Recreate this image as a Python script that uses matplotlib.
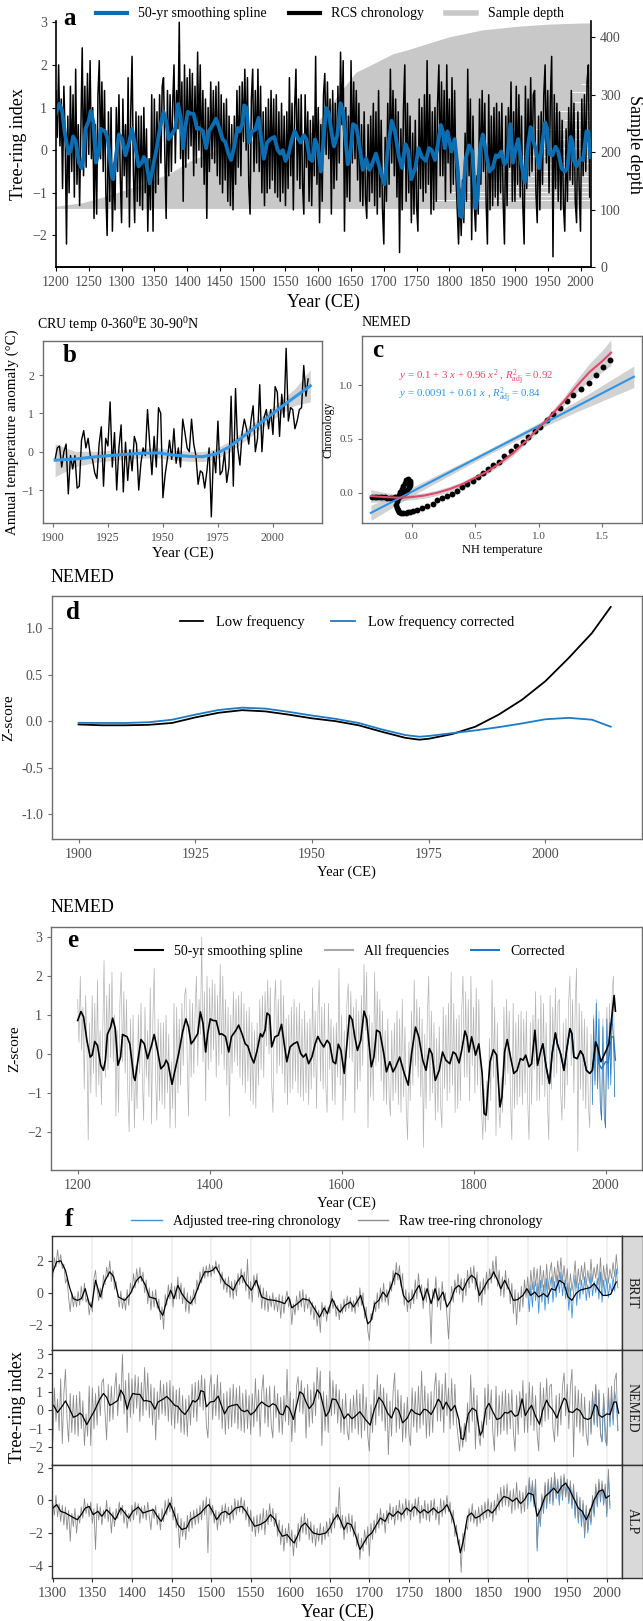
import numpy as np
import matplotlib
matplotlib.use("Agg")
import matplotlib.pyplot as plt
from matplotlib.lines import Line2D

plt.rcParams["font.family"] = "Liberation Serif"
plt.rcParams["mathtext.fontset"] = "custom"
plt.rcParams["mathtext.rm"] = "Liberation Serif"
plt.rcParams["mathtext.it"] = "Liberation Serif:italic"
plt.rcParams["mathtext.bf"] = "Liberation Serif:bold"

W, H = 643, 1621
TXT = "#4D4D4D"

# ---------------- data ----------------
# NEMED RCS chronology, every second year from 1200 (tenths of index units)
nemed_raw10 = [
    14, 3, 20, 1, 12, -9, 15, 3, -22, 8, -10, 15, -5, 13, -11, 19, -8, 6, -13, 5,
    24, -6, 15, -4, 18, -1, 21, -2, 10, -16, 6, -15, 13, 21, -2, 16, -5, 14, -10, -20,
    9, -12, 10, -19, -3, -14, 10, -5, 13, -6, -17, 12, -6, 6, -11, 17, -18, 9, 22, -5,
    -17, 9, -12, 8, -13, 8, -14, 10, -10, 5, -19, -2, -14, 13, -19, 12, -10, 9, -8, 13,
    -3, 15, 17, -1, -16, 14, -6, 13, -5, 11, 20, -3, 14, 5, 30, -2, 16, -12, 20, -4,
    17, -2, 19, 1, 18, -6, 15, -3, 23, 0, 20, -4, 14, -8, 12, -16, 10, -5, 16, -2,
    14, -3, 15, -6, 16, -8, 13, -10, 11, -7, 12, -12, 8, -13, 6, -14, 8, -8, 14, -4,
    15, -6, 16, 2, 19, 0, 17, -8, -15, 12, 19, -5, 14, -3, 19, -5, 15, -10, 9, -13,
    10, -10, 12, -9, 14, -7, 12, -10, 13, -11, 9, -12, 11, -10, 8, -13, 9, -9, 17, -6,
    11, -14, 10, 19, -7, 12, -9, 13, -8, -15, 13, -4, 9, -12, 7, -13, 8, -6, 22, -8,
    10, -17, 6, -12, 13, 18, -1, 16, -2, 12, -15, 14, -9, 11, -7, 15, -3, 23, 6, 21,
    -19, 10, -11, 8, -12, 21, -3, 16, -2, 14, -7, 11, -12, 6, -13, 9, -11, -16, 6, -12,
    8, -10, 11, -13, 9, -15, 14, -11, 7, -14, -22, 3, -12, 11, -8, 19, -3, 14, -6, 12,
    -11, 9, -24, 5, -14, 10, 20, -12, 11, -10, 8, -17, 4, -15, 7, -13, -19, 12, -9, 10,
    -12, 13, -10, 21, -8, 13, -15, 9, -14, 10, -12, 11, 20, -6, 16, -6, 14, -12, 20, -3,
    12, -10, 17, -8, 14, -6, -14, -22, -9, -20, -7, -17, 4, -12, 19, -6, 12, -21, 8, -13,
    -19, -6, -15, 12, -8, 14, -5, 11, -12, -22, 13, -14, 8, -13, 10, -11, 11, -13, 9, -10,
    11, -12, -22, 8, -13, 10, -4, 16, -12, 9, -12, 15, -8, 13, -11, 8, -13, -22, 15, -9,
    12, -6, 17, -5, 13, 14, -10, -17, 8, -14, 9, -8, 13, 20, -3, 14, -10, 12, 22, -25,
    13, -9, 11, -12, 9, -14, 7, -13, -19, 5, -12, 10, -7, 14, -8, 11, -12, -17, 9, -9,
    -19, 12, -6, 13, -5, 16, 20, -11,
]
# corrected NEMED chronology, every second year from 1980
nemed_corr10 = [
    -13, 9, -8, 13, -9, 9, -13, -17, 7, -16, -19, 9, -9, 8, -8, 10, 4, -11,
]
# 50-yr smoothing spline of the NEMED chronology (year, index)
nemed_spline = [
    (1200, 0.86), (1205, 1.09), (1209, 0.95), (1214, 0.35), (1219, -0.08), (1222, -0.03),
    (1226, 0.32), (1230, 0.22), (1235, -0.29), (1239, -0.42), (1242, -0.16), (1245, 0.5),
    (1250, 0.69), (1253, 0.92), (1257, 0.65), (1261, -0.29), (1265, -0.08), (1268, 0.5),
    (1275, 0.44), (1279, 0.26), (1285, -0.59), (1287, -0.68), (1291, -0.2), (1296, 0.37),
    (1301, 0.26), (1306, -0.12), (1312, 0.22), (1316, 0.5), (1321, 0.09), (1326, -0.38),
    (1331, -0.29), (1334, -0.16), (1337, -0.25), (1343, -0.78), (1347, -0.46), (1353, 0.0),
    (1359, 0.56), (1364, 0.9), (1368, 0.69), (1372, 0.26), (1376, 0.35), (1382, 0.52),
    (1386, 1.08), (1390, 0.78), (1394, 0.05), (1397, 0.52), (1401, 0.9), (1405, 0.86),
    (1410, 0.85), (1415, 0.5), (1418, 0.52), (1424, 0.45), (1429, 0.05), (1433, 0.44),
    (1440, 0.61), (1444, 0.74), (1449, 0.52), (1454, 0.26), (1458, 0.2), (1463, -0.08),
    (1467, -0.23), (1472, 0.09), (1477, 0.52), (1480, 0.44), (1484, 0.61), (1487, 1.05),
    (1491, 0.99), (1494, 0.18), (1499, 0.44), (1504, 0.48), (1509, 0.76), (1513, 0.26),
    (1517, -0.2), (1522, 0.18), (1527, 0.26), (1533, 0.31), (1538, 0.01), (1542, -0.08),
    (1546, 0.0), (1550, -0.25), (1555, -0.08), (1560, 0.26), (1564, 0.45), (1568, 0.31),
    (1573, 0.18), (1578, 0.35), (1582, 0.26), (1587, -0.2), (1591, -0.25), (1595, 0.25),
    (1599, 0.09), (1604, -0.5), (1608, 0.26), (1612, 0.99), (1616, 0.88), (1620, 0.44),
    (1624, 0.09), (1629, 0.35), (1634, 1.1), (1638, 0.9), (1641, 0.35), (1645, -0.33),
    (1649, -0.08), (1653, 0.61), (1658, 0.56), (1664, 0.0), (1668, -0.46), (1673, -0.2),
    (1678, -0.46), (1682, -0.33), (1688, -0.08), (1695, -0.5), (1701, -0.8), (1706, 0.0),
    (1712, 0.69), (1717, 0.44), (1723, -0.16), (1728, -0.42), (1733, 0.14), (1737, 0.0),
    (1742, -0.68), (1748, -0.42), (1753, 0.05), (1758, -0.16), (1764, -0.25), (1769, 0.05),
    (1773, 0.0), (1778, -0.23), (1782, 0.09), (1787, 0.59), (1790, 0.44), (1793, 0.05),
    (1797, 0.44), (1800, 0.22), (1803, -0.03), (1808, 0.26), (1813, -0.5), (1816, -1.53),
    (1819, -1.57), (1822, -0.85), (1825, -0.2), (1830, 0.11), (1835, -0.03), (1840, -1.36),
    (1843, -1.1), (1847, 0.05), (1851, 0.37), (1856, -0.08), (1861, -0.5), (1866, -0.42),
    (1871, -0.12), (1875, -0.16), (1879, -0.03), (1884, -0.33), (1888, -0.25), (1893, 0.61),
    (1897, -0.29), (1902, 0.09), (1905, 0.26), (1910, -0.33), (1915, -0.76), (1919, 0.0),
    (1924, 0.54), (1927, 0.26), (1932, 0.0), (1937, -0.42), (1941, 0.09), (1946, 0.65),
    (1949, 0.52), (1952, -0.08), (1957, -0.12), (1962, 0.08), (1966, -0.03), (1971, -0.42),
    (1976, -0.5), (1980, -0.42), (1985, 0.31), (1988, 0.18),
]
# recent end of the spline: corrected and uncorrected versions
tail_corrected = [(1990, -0.25), (1994, -0.38), (2000, -0.2), (2004, -0.23),
                  (2009, 0.44), (2012, 0.44), (2015, -0.16)]
tail_uncorrected = [(1993, -0.2), (2001, 0.09), (2005, 0.26), (2010, 1.03),
                    (2013, 1.5), (2015, 1.1)]

# sample depth (number of series)
depth_yr = [1200, 1240, 1275, 1310, 1345, 1375, 1405, 1430, 1465, 1500, 1550, 1590,
            1600, 1627, 1657, 1682, 1713, 1741, 1760, 1800, 1850, 1900, 1950, 2000, 2015]
depth_n = [106, 112, 123, 136, 150, 164, 185, 197, 215, 220, 222, 235,
           254, 295, 339, 353, 371, 380, 387, 401, 413, 419, 423, 425, 425]
depth_floor = 102
# gaps between stacked series in the depth band (level, first year)
gap_level = [116, 124, 131, 139, 147, 158, 168, 181, 194, 207, 223, 241, 256, 271, 288, 304, 318]
gap_start = [1770, 1835, 1800, 1890, 1860, 1925, 1880, 1950, 1905, 1940, 1965, 1930, 1975,
             1960, 1990, 1985, 2000]

# CRU annual temperature anomaly, 1901 onwards
cru_temp = [
    -0.20, 0.10, 0.15, -0.40, 0.00, 0.20, -1.10, -0.10, -0.45, -0.10, -0.95, -0.90,
    0.30, 0.55, 0.10, 0.35, -0.10, -0.20, -0.55, -0.70, 0.20, 0.65, -0.90, 0.35,
    0.15, 1.30, -0.40, 0.50, -1.00, 0.10, 0.70, -1.05, 0.25, -0.75, 0.05, -0.50,
    0.40, 0.20, -1.00, -0.30, 0.10, -0.10, 1.10, 0.20, -0.60, 0.40, -0.40, 1.15,
    1.00, -1.20, -0.60, -0.20, 0.30, -0.20, 0.60, -0.30, 0.10, -0.40, 0.85, 0.50,
    0.10, 0.00, 0.85, 0.20, -0.10, -0.85, -0.50, -0.55, -0.95, -0.50, 0.10, -1.70,
    0.00, -0.55, 0.80, -0.60, -0.50, 0.00, -0.80, -0.40, 1.45, -0.90, 1.65, 0.10,
    -0.35, 0.50, 0.85, 0.60, 0.20, 0.80, 1.20, 0.00, 0.35, 1.75, 0.00, 0.90,
    1.10, 0.60, 1.10, 0.45, 1.70, 1.55, 0.40, 1.50, 0.90, 2.70, 0.80, 1.15,
    1.10, 0.60, 0.80, 1.10, 1.15, 2.25, 1.45, 1.90,
]
cru_sm_yr = [1901, 1910, 1920, 1930, 1940, 1948, 1955, 1962, 1968, 1974, 1980, 1985,
             1990, 1995, 2000, 2005, 2010, 2017]
cru_sm = [-0.22, -0.19, -0.13, -0.08, -0.04, -0.03, -0.09, -0.12, -0.13, -0.06, 0.12, 0.33,
          0.55, 0.78, 1.0, 1.22, 1.43, 1.72]
cru_lo = [-0.65, -0.39, -0.27, -0.21, -0.17, -0.16, -0.22, -0.25, -0.26, -0.20, -0.02, 0.19,
          0.40, 0.63, 0.84, 1.04, 1.21, 1.30]
cru_hi = [0.21, 0.01, 0.01, 0.05, 0.09, 0.10, 0.04, 0.01, 0.00, 0.08, 0.26, 0.47,
          0.70, 0.93, 1.16, 1.40, 1.65, 2.14]

# smoothed NH temperature vs smoothed chronology
nh_temp = [-0.31, -0.29, -0.27, -0.25, -0.23, -0.21, -0.19, -0.17, -0.15, -0.13, -0.11, -0.09,
           -0.075, -0.06, -0.045, -0.034, -0.02, -0.013, -0.01, -0.013, -0.026, -0.04, -0.05,
           -0.065, -0.078, -0.09, -0.1, -0.11, -0.118, -0.12, -0.115, -0.11, -0.1, -0.085,
           -0.065, -0.045, -0.03, -0.01, 0.01, 0.045, 0.085, 0.125, 0.165, 0.2, 0.24, 0.28,
           0.32, 0.36, 0.40, 0.44, 0.48, 0.52, 0.56, 0.60, 0.64, 0.685, 0.73, 0.78, 0.825,
           0.88, 0.92, 0.97, 1.01, 1.065, 1.11, 1.165, 1.22, 1.27, 1.33, 1.395, 1.45, 1.505,
           1.563]
chron = [-0.037, -0.037, -0.038, -0.04, -0.041, -0.043, -0.045, -0.046, -0.045, -0.043, -0.035,
         -0.03, -0.02, -0.006, 0.01, 0.03, 0.05, 0.07, 0.09, 0.11, 0.124, 0.115, 0.095, 0.06,
         0.035, 0.01, -0.02, -0.05, -0.08, -0.11, -0.14, -0.16, -0.175, -0.185, -0.19, -0.185,
         -0.18, -0.175, -0.17, -0.155, -0.14, -0.12, -0.1, -0.07, -0.05, -0.03, -0.01, 0.02,
         0.05, 0.08, 0.11, 0.15, 0.18, 0.22, 0.26, 0.29, 0.34, 0.39, 0.43, 0.47, 0.52, 0.57,
         0.61, 0.68, 0.73, 0.79, 0.85, 0.91, 0.965, 1.02, 1.09, 1.17, 1.232]
quad_x = [-0.32, -0.2, -0.1, 0.0, 0.1, 0.2, 0.3, 0.4, 0.5, 0.6, 0.7, 0.8, 0.9, 1.0,
          1.1, 1.2, 1.3, 1.4, 1.5, 1.57]
quad_y = [-0.03, -0.04, -0.045, -0.04, -0.025, 0.0, 0.035, 0.08, 0.14, 0.2, 0.28, 0.37,
          0.48, 0.6, 0.72, 0.85, 0.99, 1.12, 1.22, 1.3]
quad_lo = [-0.09, -0.08, -0.075, -0.065, -0.05, -0.025, 0.01, 0.055, 0.115, 0.175, 0.255,
           0.345, 0.455, 0.57, 0.685, 0.81, 0.93, 1.04, 1.12, 1.18]
quad_hi = [0.03, 0.0, -0.015, -0.015, 0.0, 0.025, 0.06, 0.105, 0.165, 0.225, 0.305, 0.395,
           0.505, 0.63, 0.755, 0.89, 1.05, 1.2, 1.32, 1.42]
lin_x = [-0.32, 0.0, 0.5, 0.7, 1.0, 1.3, 1.75]
lin_y = [-0.186, 0.009, 0.314, 0.436, 0.619, 0.802, 1.077]
lin_lo = [-0.256, -0.031, 0.289, 0.411, 0.589, 0.752, 0.977]
lin_hi = [-0.116, 0.049, 0.339, 0.461, 0.649, 0.852, 1.177]

# low-frequency component of NEMED
lf_yr = [1900, 1905, 1910, 1915, 1920, 1925, 1930, 1935, 1940, 1945, 1950, 1955, 1960,
         1965, 1970, 1973, 1975, 1980, 1985, 1990, 1995, 2000, 2005, 2010, 2014]
lf = [-0.036, -0.045, -0.045, -0.04, -0.02, 0.04, 0.09, 0.118, 0.105, 0.07, 0.03, 0.0,
      -0.045, -0.115, -0.18, -0.2, -0.19, -0.14, -0.06, 0.07, 0.23, 0.43, 0.68, 0.95, 1.23]
lf_corr = [-0.018, -0.02, -0.02, -0.012, 0.015, 0.07, 0.12, 0.145, 0.135, 0.1, 0.06, 0.025,
           -0.02, -0.09, -0.15, -0.168, -0.16, -0.13, -0.1, -0.065, -0.025, 0.02, 0.035,
           0.015, -0.06]

# BRIT and ALP chronologies, every second year from 1300 (tenths)
brit_raw10 = [
    10, 22, 16, 27, 18, 24, 15, 18, 6, 9, -3, -12, 0, -9, -2, -9, 1, -8, 4, -5,
    6, -6, -3, -14, -6, -12, 9, 14, 2, -5, 3, -4, 11, 5, 16, 10, 20, 7, 14, 2,
    7, -2, -9, 1, -10, -3, -11, 2, -8, 6, 0, 12, 3, 15, 6, 16, 7, 13, 0, 8,
    -7, 3, -11, 1, -9, 2, -10, -4, -17, -9, -23, -1, -8, 5, -4, 6, -9, 4, -4, 10,
    -4, 6, -7, 3, -12, 0, -13, -2, -8, 2, -7, 8, 2, 13, 6, 16, 9, 17, 10, 18,
    10, 17, 12, 20, 14, 18, 6, 13, 2, 9, 0, 10, -3, 7, -4, 8, -2, 12, 5, 15,
    6, 13, 1, 21, -4, 7, -6, 11, 4, 12, -3, 5, -10, 3, -11, 1, -12, -2, -9, 0,
    -11, -3, -12, -1, -16, -2, -13, -4, 1, -9, -4, -20, -7, -14, -2, -11, 1, -9, 2, -12,
    -1, -10, -3, -14, -6, -17, -8, -21, -11, -25, -6, -15, -8, -18, -9, -13, 1, -10, -5, -15,
    -8, -17, -7, -13, -4, -12, -2, -10, -3, -12, -5, -13, -2, -9, 3, -8, 0, -16, -9, -24,
    -30, -13, -17, -5, -12, 0, -10, 3, -6, 6, -6, 2, -8, 7, 1, 14, 5, 19, 8, 17,
    4, 12, -8, 2, -12, 0, -10, 2, -7, 8, -4, 12, 0, 5, -10, 3, -6, 9, -5, -32,
    2, -4, 10, -9, 3, -11, 7, -5, 0, -14, -29, -9, 4, -6, 8, 0, 12, -1, 9, -6,
    9, -2, 14, 3, 16, 6, 17, 2, 13, -6, 7, -8, 9, -1, 13, 2, 15, 6, 20, 9,
    23, 4, 14, -2, 10, -3, 14, 2, 9, -7, 6, -13, 2, -20, 0, -12, 4, -9, 8, -3,
    10, -2, 14, 2, 16, 4, 15, -1, 17, 3, 14, 0, 18, 2, 13, 19, 3, 16, 6, 20,
    9, 22, 7, 17, 5, 15, -2, 12, 1, 9, 20, 3, 15, 5, 17, 8, 19, 4, 14, 6,
    21, 7, 16, 9, 18, 5, 22, 3, 17, 7, 18, 6, 15, 9, 19, 10, 24, 12,
]
brit_adj10 = [
    1, -12, 5, -9, 7, -5, 6, -13, 8, -6, 5, -11, 9, -7, 4, 10, -6, 7, -3, 11,
    0, 13, -2, 8, -4, 6, -11, 3, -16, 0, 11, -8, 6, -4, 8, -1, 10, -5, 5, -3,
    12, -2, 7, 0, 9, -4, 13, -6, 8, -2, 9, -3, 6, 0, 10, 1, 15, 3,
]
alp_raw10 = [
    -2, -9, 3, -10, -2, -13, -3, -15, -4, -18, -6, -25, -8, -16, -5, -20, -9, -14, -4, -11,
    1, -8, -2, -10, -1, -14, -5, -30, -2, -12, -4, -15, -6, -11, 0, -13, -4, -20, -7, -16,
    -5, -11, -1, -9, -3, -14, -6, -17, -8, -13, -3, -12, -1, -9, -2, -14, -4, -11, -3, -12,
    -1, -10, -18, -5, -11, -3, -15, -8, -18, -5, -13, 0, -9, 1, -7, 2, -12, -4, -17, -8,
    -29, -11, -22, -13, -24, -9, -19, -7, -17, -6, -15, -5, -14, -3, -12, 0, -9, 2, -32, 1,
    -9, -3, -14, -6, -18, -7, -15, -3, -13, -2, -11, -4, -14, -3, -12, 1, -9, 0, -7, 2,
    -8, 0, -12, -4, -16, -6, -19, -10, -22, -9, -20, -8, -18, -5, -21, -6, -15, -2, -13, -5,
    -16, -8, -22, -12, -27, -15, -31, -17, -26, -14, -28, -18, -34, -21, -29, -14, -25, -10, -20, -8,
    -21, -11, -24, -13, -26, -15, -28, -17, -25, -14, -27, -16, -24, -13, -22, -11, -20, -8, -17, -4,
    -12, 8, -17, -9, -24, -10, -20, -8, -19, -9, -22, -13, -28, -20, -36, -23, -31, -18, -27, -16,
    -34, -14, -24, -12, -20, -8, -17, -5, -15, -8, -20, -6, -14, -2, -12, -4, -15, -3, -12, 0,
    -13, -2, -11, 1, -9, 0, -12, -2, -10, 1, -9, 2, -14, -3, -11, 0, -12, -2, -13, 0,
    -9, 1, -12, -4, -15, 1, -10, 0, -8, 3, -7, -1, -14, -6, -22, -15, -27, -24, -44, -20,
    -31, -15, -18, -5, -13, -2, -14, -6, -16, -4, -14, -3, -12, -1, -11, 1, -10, -1, -13, 0,
    -9, 4, -6, 8, -4, 9, -3, 10, -4, 6, -8, 7, -6, 11, -5, 6, -8, 5, -7, 9,
    -3, 14, 1, 12, -2, 13, -29, -5, -14, 4, -6, 11, -3, 13, 0, 14, -1, 17, 3, 13,
    -1, 15, 2, 16, 4, 13, 0, 12, -3, 10, -9, 5, -12, 2, -14, 0, -21, -3, -18, -5,
    -13, 3, -8, 10, -2, 13, 1, 12, -1, 10, -8, 19, -3,
]
alp_adj10 = [
    -5, 12, -1, 10, -4, 11, -31, -7, -16, 2, -8, 9, -5, 11, -2, 12, -3, 15, 1, 11,
    -3, 13, 0, 14, 2, 11, -2, 10, -5, 8, -11, 3, -14, 0, -16, -2, -23, -5, -20, -7,
    -15, 1, -10, 8, -4, 11, -1, 10, -3, 8, -10, 16, -5,
]
brit_spline = [
    (1300, 1.3), (1305, 1.94), (1310, 2.0), (1316, 1.41), (1321, 0.36), (1326, -0.38),
    (1331, -0.48), (1336, -0.38), (1341, 0.25), (1346, -0.69), (1349, -0.9), (1354, 0.78),
    (1360, -0.27), (1365, 0.67), (1372, 1.31), (1377, 0.99), (1383, -0.27), (1391, -0.48),
    (1398, -0.06), (1406, 0.78), (1411, 1.03), (1417, 0.46), (1422, -0.27), (1430, -0.38),
    (1435, -1.12), (1439, -1.43), (1444, -0.48), (1449, 0.15), (1453, -0.38), (1458, 0.46),
    (1463, -0.06), (1469, -0.48), (1474, -0.69), (1479, -0.27), (1487, 0.78), (1492, 1.31),
    (1497, 1.31), (1502, 1.41), (1506, 1.62), (1513, 0.99), (1518, 0.57), (1523, 0.4),
    (1528, 0.15), (1533, 0.67), (1539, 1.09), (1544, 0.57), (1551, 0.15), (1557, 0.78),
    (1564, -0.27), (1572, -0.44), (1580, -0.48), (1588, -0.59), (1593, -0.69), (1598, -0.27),
    (1602, -0.95), (1609, -0.69), (1616, -0.38), (1624, -0.48), (1632, -1.12), (1637, -1.54),
    (1643, -0.95), (1647, -1.33), (1653, -0.38), (1658, -0.9), (1663, -1.22), (1669, -0.8),
    (1676, -0.59), (1680, -0.9), (1684, -0.59), (1689, -0.17), (1694, -1.12), (1698, -1.96),
    (1702, -1.75), (1707, -0.69), (1712, -0.48), (1717, 0.04), (1722, -0.27), (1728, 0.46),
    (1733, 1.24), (1738, 1.09), (1743, -0.17), (1749, -0.59), (1754, -0.38), (1759, 0.15),
    (1763, 0.46), (1768, -0.48), (1773, 0.25), (1778, -0.69), (1783, 0.25), (1787, -0.48),
    (1793, 0.04), (1798, -0.9), (1803, -0.48), (1808, 0.25), (1813, 0.46), (1818, 0.15),
    (1824, 0.78), (1829, 1.09), (1834, 0.88), (1839, -0.17), (1844, 0.25), (1850, 0.78),
    (1854, 0.95), (1857, 1.31), (1863, 0.67), (1866, 0.25), (1871, 0.78), (1877, 0.15),
    (1882, -0.48), (1887, -0.44), (1894, -0.17), (1899, 0.25), (1904, -0.17), (1909, 0.04),
    (1914, -0.27), (1920, -0.06), (1925, -0.27), (1930, 0.25), (1935, 0.15), (1940, 0.78),
    (1946, 0.57), (1951, -0.27), (1956, -0.48), (1961, -0.06), (1966, 0.15), (1973, 0.25),
    (1979, 0.32), (1984, 0.57), (1990, 0.15), (1995, -0.17), (2000, -0.17), (2005, -0.1),
    (2009, 0.36), (2012, 0.67),
]
alp_spline = [
    (1300, -0.47), (1305, -0.26), (1310, -0.67), (1316, -0.77), (1323, -0.97), (1331, -1.18),
    (1336, -0.87), (1341, -0.47), (1346, -0.37), (1351, -0.87), (1357, -0.67), (1362, -0.97),
    (1368, -0.57), (1374, -0.87), (1379, -1.18), (1386, -0.47), (1391, -0.77), (1396, -1.08),
    (1401, -0.67), (1408, -0.41), (1414, -0.77), (1420, -0.67), (1427, -0.57), (1432, -0.97),
    (1437, -1.28), (1443, -0.67), (1448, -0.16), (1453, -0.77), (1458, -1.48), (1463, -1.78),
    (1469, -1.68), (1474, -1.18), (1481, -0.97), (1487, -0.77), (1492, -0.47), (1497, -0.26),
    (1502, -0.67), (1507, -1.18), (1513, -0.77), (1518, -0.67), (1523, -0.87), (1531, -0.47),
    (1539, -0.37), (1544, -0.67), (1550, -1.18), (1555, -1.58), (1562, -1.48), (1569, -1.28),
    (1575, -0.87), (1581, -1.18), (1585, -1.78), (1590, -2.19), (1596, -2.09), (1601, -2.39),
    (1605, -2.6), (1609, -2.19), (1614, -1.58), (1619, -1.38), (1624, -1.68), (1629, -1.99),
    (1637, -2.09), (1645, -1.99), (1650, -1.68), (1655, -1.18), (1660, -0.87), (1664, -1.28),
    (1668, -1.78), (1672, -1.38), (1677, -1.48), (1683, -2.19), (1688, -3.0), (1693, -2.6),
    (1698, -2.19), (1703, -1.99), (1709, -1.48), (1714, -1.08), (1720, -1.28), (1725, -0.77),
    (1730, -0.97), (1736, -0.67), (1741, -0.87), (1747, -0.47), (1752, -0.67), (1757, -0.37),
    (1764, -0.77), (1769, -0.57), (1774, -0.77), (1781, -0.47), (1787, -0.77), (1793, -0.57),
    (1798, -0.26), (1802, -0.67), (1806, -1.18), (1811, -2.19), (1815, -3.2), (1819, -2.39),
    (1824, -0.97), (1829, -0.77), (1834, -1.08), (1839, -0.97), (1844, -0.77), (1850, -0.57),
    (1855, -0.77), (1860, -0.47), (1865, -0.06), (1870, 0.24), (1876, 0.14), (1881, -0.06),
    (1886, 0.14), (1891, -0.2), (1896, 0.04), (1901, 0.45), (1907, 0.34), (1912, -0.97),
    (1916, -0.57), (1922, 0.24), (1927, 0.45), (1933, 0.75), (1938, 0.45), (1943, 0.85),
    (1948, 1.05), (1953, 0.65), (1959, 0.04), (1964, -0.47), (1969, -0.67), (1974, -1.18),
    (1978, -0.77), (1984, 0.04), (1990, 0.55), (1995, 0.65), (1999, 0.14), (2003, 0.28),
]


def pairs(p):
    a = np.array(p, dtype=float)
    return a[:, 0], a[:, 1]


def biennial(start, vals10):
    v = np.array(vals10, dtype=float) / 10.0
    return start + 2 * np.arange(len(v)), v


nem_yr, nem = biennial(1200, nemed_raw10)
nemc_yr, nemc = biennial(1980, nemed_corr10)
brit_yr, brit = biennial(1300, brit_raw10)
brita_yr, brita = biennial(1900, brit_adj10)
alp_yr, alp = biennial(1300, alp_raw10)
alpa_yr, alpa = biennial(1900, alp_adj10)

spl_yr, spl = pairs(nemed_spline)
tc_yr, tc = pairs(tail_corrected)
tu_yr, tu = pairs(tail_uncorrected)
splc_yr = np.concatenate([spl_yr, tc_yr])
splc = np.concatenate([spl, tc])
splu_yr = np.concatenate([spl_yr, tu_yr])
splu = np.concatenate([spl, tu])

# ---------------- figure ----------------
fig = plt.figure(figsize=(W / 100, H / 100), dpi=100)


def place(x0, y0, x1, y1):
    return fig.add_axes([x0 / W, 1 - y1 / H, (x1 - x0) / W, (y1 - y0) / H])


def ftext(x, y, s, **kw):
    fig.text(x / W, 1 - y / H, s, **kw)


def boxed(ax, size, col="#6E6E6E", lw=1.0):
    for sp in ax.spines.values():
        sp.set_color(col)
        sp.set_linewidth(lw)
    ax.tick_params(labelsize=size, labelcolor=TXT, color=col, length=3, width=0.8)


def letter(ax, x, y, s):
    ax.text(x, y, s, transform=ax.transAxes, fontsize=18, fontweight="bold",
            va="baseline", ha="left", zorder=10)


# --- a: RCS chronology with sample depth
ax = place(56, 21, 591, 267)
axd = ax.twinx()
axd.fill_between(depth_yr, depth_floor, depth_n, color="#C8C8C8", lw=0)
axd.hlines(gap_level, gap_start, 2015, color="white", lw=0.6)
axd.set_ylim(0, 428.5)
axd.set_yticks([0, 100, 200, 300, 400])
axd.set_ylabel("Sample depth", fontsize=13, rotation=270, labelpad=16)
ax.set_zorder(axd.get_zorder() + 1)
ax.patch.set_visible(False)
ax.plot(nem_yr, nem, color="black", lw=1.1)
ax.plot(splc_yr, splc, color="#0C6DB0", lw=2.8)
ax.set_xlim(1200, 2016)
ax.set_ylim(-2.74, 3.03)
ax.set_xticks(np.arange(1200, 2001, 50))
ax.set_yticks([-2, -1, 0, 1, 2, 3])
ax.set_xlabel("Year (CE)", fontsize=13, labelpad=3)
ax.set_ylabel("Tree-ring index", fontsize=13, labelpad=4)
for a_ in (ax, axd):
    a_.spines["top"].set_visible(False)
    for s in ("left", "right", "bottom"):
        a_.spines[s].set_linewidth(1.2)
    a_.tick_params(labelsize=10, labelcolor=TXT, length=3, width=0.8)
ax.spines["right"].set_visible(False)
axd.spines["left"].set_visible(False)
letter(ax, 0.013, 0.984, "a")
fig.legend([Line2D([], [], color="#0C6DB0", lw=3), Line2D([], [], color="black", lw=3),
            Line2D([], [], color="#C8C8C8", lw=4)],
           ["50-yr smoothing spline", "RCS chronology", "Sample depth"],
           loc="center", bbox_to_anchor=(330 / W, 1 - 14 / H), ncol=3, frameon=False,
           fontsize=10, handlelength=2.2, columnspacing=1.6, handletextpad=0.8)

# --- b: CRU temperature
bx = place(43, 341, 322, 523)
bx.fill_between(cru_sm_yr, cru_lo, cru_hi, color="#A6A6A6", alpha=0.5, lw=0)
bx.plot(1901 + np.arange(len(cru_temp)), cru_temp, color="black", lw=1.0)
bx.plot(cru_sm_yr, cru_sm, color="#3497E6", lw=2.2)
bx.set_xlim(1895.5, 2022.3)
bx.set_ylim(-1.86, 2.89)
bx.set_xticks([1900, 1925, 1950, 1975, 2000])
bx.set_yticks([-1, 0, 1, 2])
boxed(bx, 8.5)
bx.set_xlabel("Year (CE)", fontsize=11, labelpad=2)
bx.set_ylabel("Annual temperature anomaly (°C)", fontsize=10.8, labelpad=2)
letter(bx, 0.07, 0.886, "b")
ftext(37, 325, "CRU temp 0-360$^{0}$E 30-90$^{0}$N", fontsize=10, va="center")

# --- c: chronology vs NH temperature
cx = place(362, 336, 641.5, 523)
cx.fill_between(lin_x, lin_lo, lin_hi, color="#A6A6A6", alpha=0.5, lw=0)
cx.fill_between(quad_x, quad_lo, quad_hi, color="#A6A6A6", alpha=0.5, lw=0)
cx.scatter(nh_temp, chron, s=18, color="black", lw=0, zorder=3)
cx.plot(lin_x, lin_y, color="#2D95E6", lw=1.5, zorder=4)
cx.plot(quad_x, quad_y, color="#E0486A", lw=1.5, zorder=4)
cx.text(-0.1, 1.075, r"$y$ = 0.1 + 3 $x$ + 0.96 $x^2$ , $R^2_{\mathrm{adj}}$ = 0.92",
        color="#E0486A", fontsize=7.8, va="center")
cx.text(-0.1, 0.905, r"$y$ = 0.0091 + 0.61 $x$ , $R^2_{\mathrm{adj}}$ = 0.84",
        color="#2D95E6", fontsize=7.8, va="center")
cx.set_xlim(-0.39, 1.81)
cx.set_ylim(-0.28, 1.455)
cx.set_xticks([0.0, 0.5, 1.0, 1.5])
cx.set_yticks([0.0, 0.5, 1.0])
boxed(cx, 8)
cx.set_xlabel("NH temperature", fontsize=9, labelpad=2)
cx.set_ylabel("Chronology", fontsize=8.5, labelpad=3)
letter(cx, 0.035, 0.889, "c")
ftext(362, 323, "NEMED", fontsize=10, va="center")

# --- d: low-frequency component
dx = place(52, 596, 641.5, 839)
dx.plot(lf_yr, lf, color="black", lw=1.3)
dx.plot(lf_yr, lf_corr, color="#1F7AC4", lw=1.3)
dx.set_xlim(1894.3, 2020.6)
dx.set_ylim(-1.27, 1.348)
dx.set_xticks([1900, 1925, 1950, 1975, 2000])
dx.set_yticks([-1.0, -0.5, 0.0, 0.5, 1.0])
dx.set_yticklabels(["-1.0", "-0.5", "0.0", "0.5", "1.0"])
boxed(dx, 10)
dx.set_xlabel("Year (CE)", fontsize=10.5, labelpad=3)
dx.set_ylabel("Z-score", fontsize=11, labelpad=4)
letter(dx, 0.023, 0.904, "d")
ftext(51, 578, "NEMED", fontsize=13, va="center")
fig.legend([Line2D([], [], color="black", lw=1.3), Line2D([], [], color="#1F7AC4", lw=1.3)],
           ["Low frequency", "Low frequency corrected"], loc="center",
           bbox_to_anchor=(347 / W, 1 - 622 / H), ncol=2, frameon=False, fontsize=10.5,
           handlelength=1.6, columnspacing=1.8, handletextpad=0.9)

# --- e: all frequencies and spline
ex = place(51, 927, 641.5, 1170)
ex.plot(nem_yr, nem, color="#B4B4B4", lw=0.5)
ex.plot(nemc_yr, nemc, color="#1F78C8", lw=0.5)
sel = splc_yr >= 1900
ex.plot(splc_yr[sel], splc[sel], color="#1F78C8", lw=1.0)
ex.plot(splu_yr, splu, color="black", lw=1.2)
ex.set_xlim(1159.6, 2054.5)
ex.set_ylim(-2.98, 3.26)
ex.set_xticks([1200, 1400, 1600, 1800, 2000])
ex.set_yticks([-2, -1, 0, 1, 2, 3])
boxed(ex, 10)
ex.set_xlabel("Year (CE)", fontsize=10.5, labelpad=3)
ex.set_ylabel("Z-score", fontsize=11, labelpad=4)
letter(ex, 0.028, 0.919, "e")
ftext(51, 907, "NEMED", fontsize=13, va="center")
fig.legend([Line2D([], [], color="black", lw=1.5), Line2D([], [], color="#A8A8A8", lw=1.5),
            Line2D([], [], color="#1F78C8", lw=1.5)],
           ["50-yr smoothing spline", "All frequencies", "Corrected"], loc="center",
           bbox_to_anchor=(350 / W, 1 - 951 / H), ncol=3, frameon=False, fontsize=10,
           handlelength=2.0, columnspacing=1.6, handletextpad=0.8)

# --- f: three regional chronologies
facets = [
    ("BRIT", (1236, 1350), (brit_yr, brit), (brita_yr, brita), pairs(brit_spline),
     (-3.6, 3.56), [-2, 0, 2]),
    ("NEMED", (1350, 1465), (nem_yr, nem), (nemc_yr, nemc), (splc_yr, splc),
     (-2.95, 3.24), [-2, -1, 0, 1, 2, 3]),
    ("ALP", (1465, 1578), (alp_yr, alp), (alpa_yr, alpa), pairs(alp_spline),
     (-4.74, 2.16), [-4, -2, 0, 2]),
]
for i, (name, (y0, y1), raw, adj, smooth, ylim, yt) in enumerate(facets):
    fx = place(52, y0, 622, y1)
    for g in range(1350, 2001, 50):
        fx.axvline(g, color="#EBEBEB", lw=1.1, zorder=0)
    fx.plot(adj[0], adj[1], color="#3C91DA", lw=0.6)
    m = raw[0] >= 1300
    fx.plot(raw[0][m], raw[1][m], color="#8C8C8C", lw=0.6)
    ms = smooth[0] >= 1300
    fx.plot(smooth[0][ms], smooth[1][ms], color="black", lw=0.9)
    fx.set_xlim(1299, 2019.2)
    fx.set_ylim(*ylim)
    fx.set_yticks(yt)
    fx.set_xticks(np.arange(1300, 2001, 50))
    boxed(fx, 10, col="#333333", lw=1.0)
    if i < 2:
        fx.tick_params(axis="x", length=0, labelbottom=False)
    else:
        fx.tick_params(axis="x", labelsize=10.5)
    st = place(622, y0, 642.5, y1)
    st.set_facecolor("#D9D9D9")
    st.set_xticks([])
    st.set_yticks([])
    for sp in st.spines.values():
        sp.set_color("#333333")
        sp.set_linewidth(1.0)
    st.text(0.5, 0.5, name, rotation=270, ha="center", va="center", fontsize=10,
            color="#1A1A1A", transform=st.transAxes)

ftext(18, 1407, "Tree-ring index", fontsize=13, rotation=90, ha="center", va="center")
ftext(337, 1612, "Year (CE)", fontsize=13, ha="center", va="center")
ftext(65, 1226, "f", fontsize=18, fontweight="bold", va="baseline")
fig.legend([Line2D([], [], color="#3C91DA", lw=1.0), Line2D([], [], color="#8C8C8C", lw=1.0)],
           ["Adjusted tree-ring chronology", "Raw tree-ring chronology"], loc="center",
           bbox_to_anchor=(337 / W, 1 - 1221 / H), ncol=2, frameon=False, fontsize=10,
           handlelength=2.2, columnspacing=1.2, handletextpad=0.8)

fig.savefig("out.png", dpi=100)
